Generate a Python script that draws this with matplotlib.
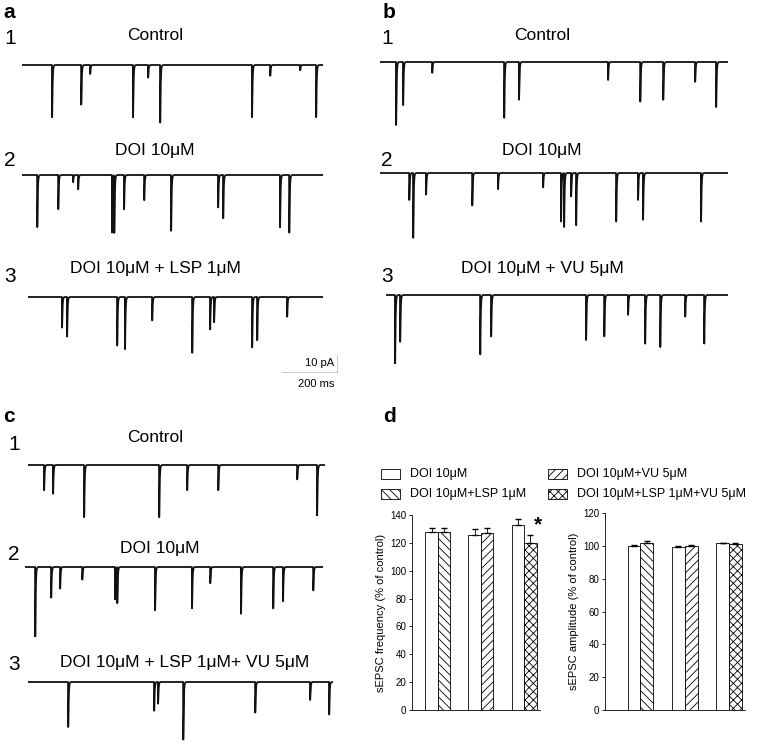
import numpy as np
import matplotlib.pyplot as plt

plt.rcParams["font.family"] = "Liberation Sans"
plt.rcParams["hatch.linewidth"] = 0.6

W, H = 761, 742

# sEPSC events per trace: onset times (ms) and amplitudes (pA)
a1_t = [107, 211, 243, 396, 450, 493, 821, 886, 993, 1050]
a1_a = [29, 22, 5, 29, 7, 32, 29, 6, 3, 29]
a2_t = [54, 129, 182, 200, 321, 329, 364, 436, 532, 700, 718, 921, 954]
a2_a = [29, 19, 4, 8, 32, 32, 19, 14, 31, 18, 24, 29, 32]
a3_t = [121, 139, 318, 346, 443, 586, 650, 664, 800, 818, 925]
a3_a = [17, 22, 27, 29, 13, 31, 18, 14, 28, 24, 11]
b1_t = [57, 82, 186, 443, 496, 814, 929, 1011, 1125, 1200]
b1_a = [35, 24, 6, 31, 21, 10, 22, 21, 11, 25]
b2_t = [104, 118, 164, 329, 421, 582, 646, 657, 682, 700, 843, 921, 939, 1146]
b2_a = [15, 36, 12, 18, 9, 8, 27, 30, 13, 29, 27, 15, 26, 27]
b3_t = [32, 50, 336, 375, 714, 779, 864, 925, 979, 1068, 1136]
b3_a = [38, 26, 33, 23, 25, 23, 11, 27, 29, 12, 27]
c1_t = [57, 89, 200, 468, 568, 679, 961, 1032]
c1_a = [14, 16, 29, 29, 14, 14, 8, 28]
c2_t = [36, 93, 125, 204, 321, 329, 464, 596, 661, 771, 886, 921, 1029]
c2_a = [39, 17, 12, 7, 18, 20, 24, 23, 9, 26, 23, 19, 13]
c3_t = [143, 450, 464, 554, 811, 1007, 1075]
c3_a = [25, 16, 12, 32, 17, 10, 18]

# panel d
freq_doi = [128, 126, 133]
freq_doi_err = [3, 4, 4]
freq_drug = [128, 127, 120]
freq_drug_err = [3, 4, 6]
amp_doi = [100, 99.5, 101.5]
amp_doi_err = [0.5, 0.5, 0.5]
amp_drug = [102, 100, 101]
amp_drug_err = [1, 0.5, 1]
drug_hatch = ["\\\\\\\\", "////", "xxxx"]

PX_MS = 0.28   # pixels per ms (200 ms = 56 px)
PX_PA = 1.8    # pixels per pA (10 pA = 18 px)

fig = plt.figure(figsize=(W / 100, H / 100), dpi=100)


def rect(x, y, w, h):
    return [x / W, 1 - (y + h) / H, w / W, h / H]


def trace(x0, x1, base, times, amps):
    ax = fig.add_axes(rect(x0, base - 10, x1 - x0, 80))
    dur = (x1 - x0) / PX_MS
    t = np.linspace(0, dur, 12000)
    v = np.zeros_like(t)
    tr, td = 0.3, 1.5
    tp = np.log(td / tr) * tr * td / (td - tr)
    norm = np.exp(-tp / td) - np.exp(-tp / tr)
    for t0, a in zip(times, amps):
        d = t - t0
        m = d >= 0
        v[m] -= a * (np.exp(-d[m] / td) - np.exp(-d[m] / tr)) / norm
    ax.plot(t, v, color="#111111", lw=1.3)
    ax.set_xlim(0, dur)
    ax.set_ylim(-70 / PX_PA, 10 / PX_PA)
    ax.axis("off")


def txt(x, y, s, size=12, **kw):
    fig.text(x / W, 1 - y / H, s, fontsize=size, va="center", **kw)


txt(3, 13, "a", 15, weight="bold")
txt(383, 13, "b", 15, weight="bold")
txt(3, 417, "c", 15, weight="bold")
txt(383, 417, "d", 15, weight="bold")

mu = "\u03bc"
for x0, x1, lx, nx, traces, labels in [
        (22, 323, 155, 4, [(65, a1_t, a1_a), (175, a2_t, a2_a), (297, a3_t, a3_a)],
         ["Control", f"DOI 10{mu}M", f"DOI 10{mu}M + LSP 1{mu}M"]),
        (380, 728, 542, 381, [(62, b1_t, b1_a), (173, b2_t, b2_a), (295, b3_t, b3_a)],
         ["Control", f"DOI 10{mu}M", f"DOI 10{mu}M + VU 5{mu}M"])]:
    for i, ((base, ts, am), lab) in enumerate(zip(traces, labels)):
        trace(x0 if i < 2 else x0 + 6, x1, base, ts, am)
        txt(lx, [36, 150, 268][i], lab, 12.5, ha="center")
        txt(nx, [38, 160, 277][i], str(i + 1), 15)

for i, ((base, ts, am), lab) in enumerate(zip(
        [(465, c1_t, c1_a), (567, c2_t, c2_a), (682, c3_t, c3_a)],
        ["Control", f"DOI 10{mu}M", f"DOI 10{mu}M + LSP 1{mu}M+ VU 5{mu}M"])):
    trace([28, 25, 28][i], [325, 323, 333][i], base, ts, am)
    txt([155, 160, 185][i], [437, 548, 663][i], lab, 12.5, ha="center")
    txt(8, [445, 555, 665][i], str(i + 1), 15)

# scale bar
sb = fig.add_axes(rect(282, 350, 56, 23))
sb.plot([0, 200, 200], [0, 0, 10], color="black", lw=1)
sb.set_xlim(0, 200)
sb.set_ylim(0, 23 / PX_PA)
sb.axis("off")
txt(334, 363, "10 pA", 8, ha="right")
txt(316, 384, "200 ms", 8, ha="center")

# bar charts
x = np.arange(3)
bw = 0.29
for r, xl, doi, de, drug, dre, ylim, lab in [
        (rect(412, 515, 128, 195), (-0.6, 2.37), freq_doi, freq_doi_err, freq_drug, freq_drug_err, 140,
         "sEPSC frequency (% of control)"),
        (rect(605, 513, 140, 197), (-0.8, 2.36), amp_doi, amp_doi_err, amp_drug, amp_drug_err, 120,
         "sEPSC amplitude (% of control)")]:
    ax = fig.add_axes(r)
    ax.bar(x - bw / 2, doi, bw, yerr=[[0] * 3, de], color="white", edgecolor="black", lw=0.6,
           error_kw=dict(lw=0.6, capsize=2))
    for j in range(3):
        ax.bar(x[j] + bw / 2, drug[j], bw, yerr=[[0], [dre[j]]], color="white", edgecolor="black",
               hatch=drug_hatch[j], lw=0.6, error_kw=dict(lw=0.6, capsize=2))
    ax.set_ylim(0, ylim)
    ax.set_yticks(range(0, ylim + 1, 20))
    ax.set_xlim(*xl)
    ax.set_xticks([])
    ax.tick_params(labelsize=7, length=2, width=0.6, pad=2)
    ax.set_ylabel(lab, fontsize=8, labelpad=3)
    for s in ["top", "right"]:
        ax.spines[s].set_visible(False)
    for s in ["left", "bottom"]:
        ax.spines[s].set_linewidth(0.6)
    if ylim == 140:
        ax.text(x[2] + bw / 2 + 0.08, drug[2] + dre[2] + 3, "*", fontsize=15, weight="bold")

# legend
lg = fig.add_axes(rect(380, 460, 381, 45))
lg.set_xlim(0, 381)
lg.set_ylim(45, 0)
lg.axis("off")
legend_items = [(f"DOI 10{mu}M", None, 0, 14), (f"DOI 10{mu}M+VU 5{mu}M", "////", 167, 14),
                (f"DOI 10{mu}M+LSP 1{mu}M", "\\\\\\\\", 0, 34),
                (f"DOI 10{mu}M+LSP 1{mu}M+VU 5{mu}M", "xxxx", 167, 34)]
for name, h, lx, ly in legend_items:
    lg.add_patch(plt.Rectangle((lx + 1, ly - 5), 19, 10, facecolor="white", edgecolor="black",
                               hatch=h, lw=0.6))
    lg.text(lx + 30, ly, name, fontsize=9, va="center")

fig.savefig("out.png", dpi=100)
